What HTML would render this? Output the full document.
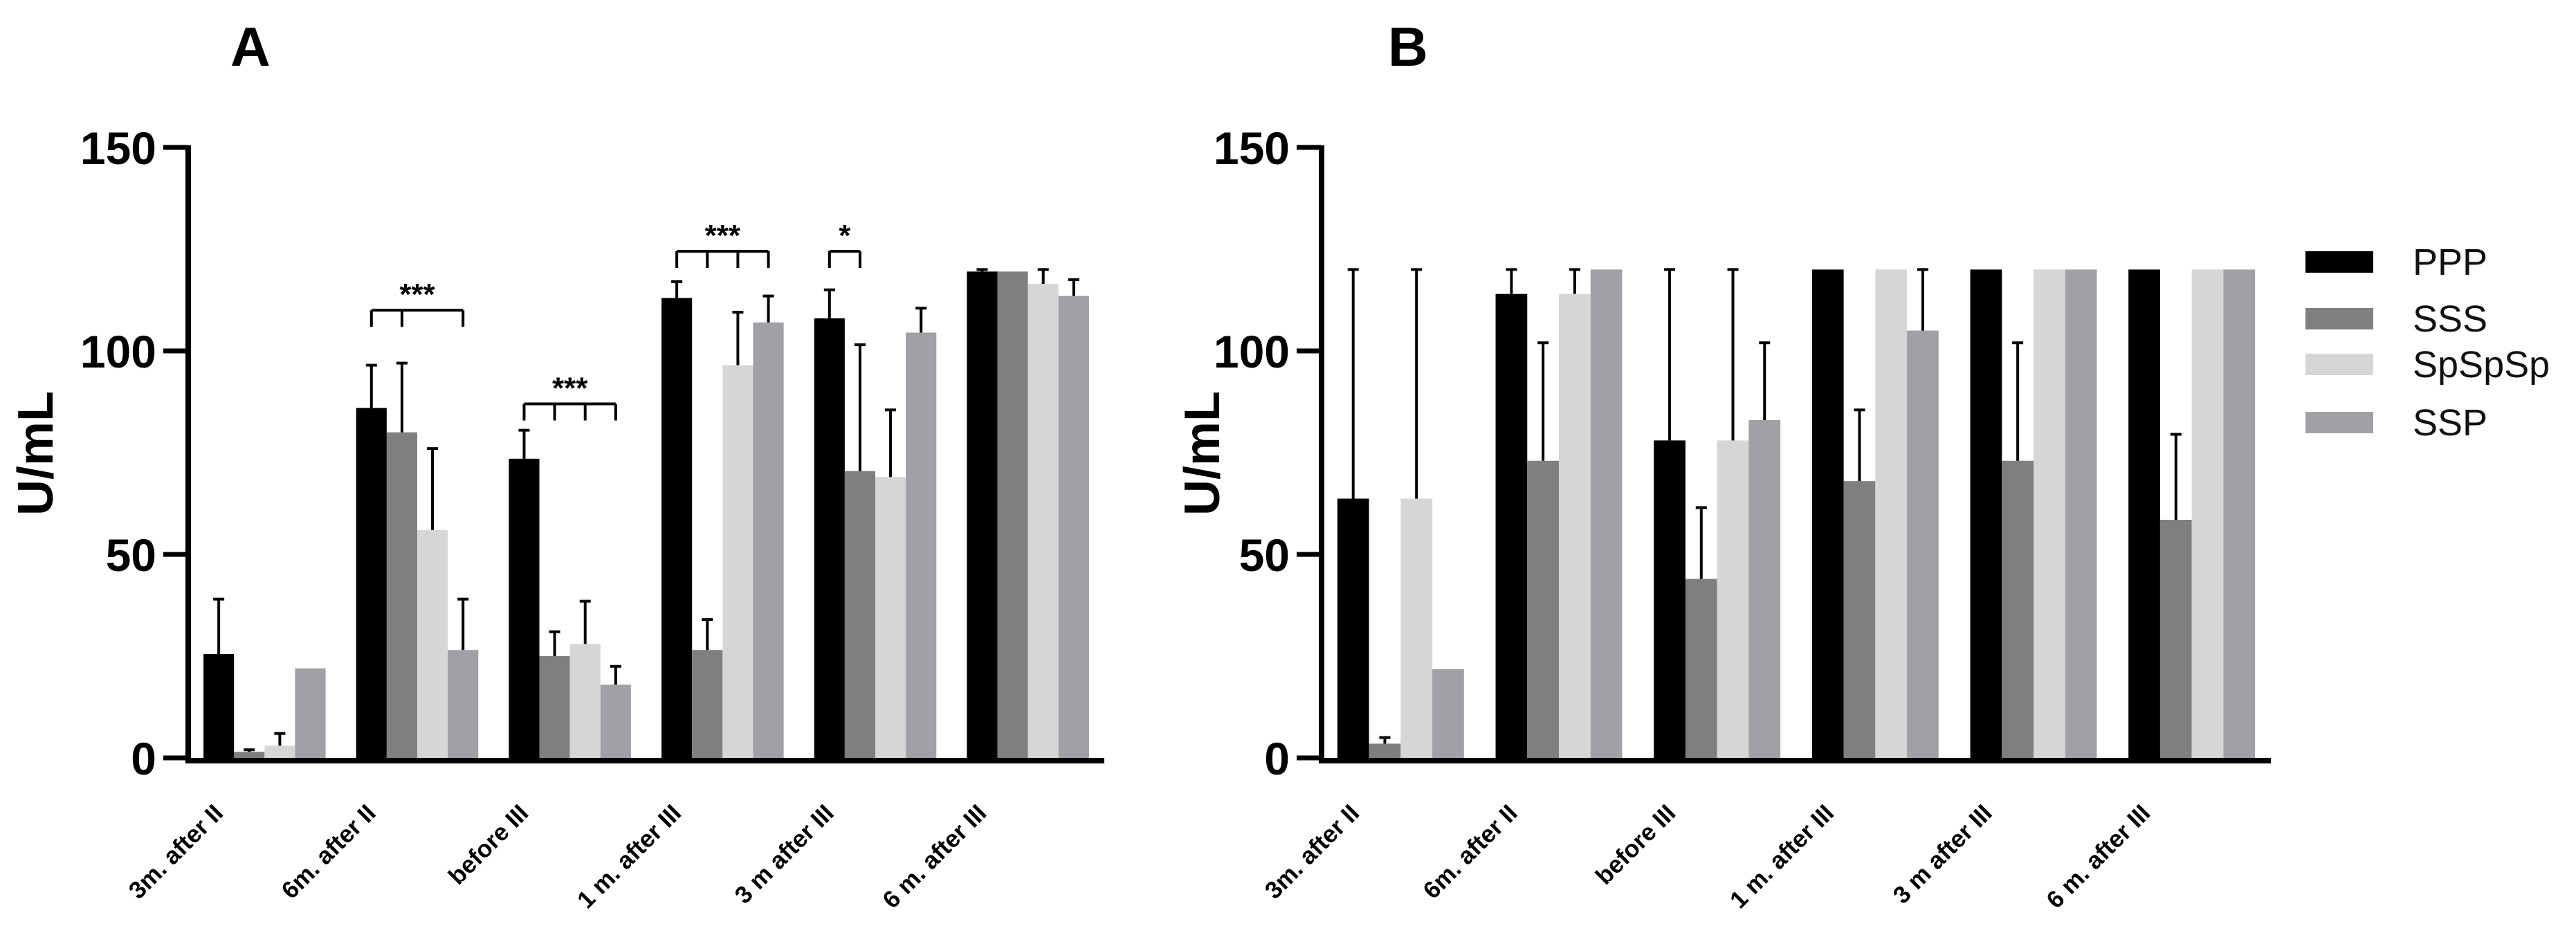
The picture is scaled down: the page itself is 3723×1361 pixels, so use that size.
<!DOCTYPE html>
<html><head><meta charset="utf-8"><style>
html,body{margin:0;padding:0;background:#fff;}
svg{display:block;font-family:"Liberation Sans",Arial,sans-serif;}
</style></head><body>
<svg id="chart" width="3723" height="1361" viewBox="0 0 3723 1361">
<text x="333" y="95" font-size="80" font-weight="bold">A</text>
<text x="2006" y="95" font-size="80" font-weight="bold">B</text>
<g id="legend"></g>
</svg>
<script>
const categories = ["3m. after II","6m. after II","before III","1 m. after III","3 m after III","6 m. after III"];
const seriesNames = ["PPP","SSS","SpSpSp","SSP"];
const seriesColors = ["#000000","#7f7f7f","#d6d6d6","#a0a0a5"];
const yTicks = [0,50,100,150];
// Panel A means and upper error ends
const aPPP = [25.5,86,73.5,113,108,119.5];
const aSSS = [1.5,80,25,26.5,70.5,119.5];
const aSp  = [3,56,28,96.5,69,116.5];
const aSSP = [22,26.5,18,107,104.5,113.5];
const aPPPerr = [39,96.5,80.5,117,115,120];
const aSSSerr = [2,97,31,34,101.5,null];
const aSperr  = [6,76,38.5,109.5,85.5,120];
const aSSPerr = [null,39,22.5,113.5,110.5,117.5];
// Panel B
const bPPP = [63.7,114,78,120,120,120];
const bSSS = [3.5,73,44,68,73,58.5];
const bSp  = [63.7,114,78,120,120,120];
const bSSP = [21.8,120,83,105,120,120];
const bPPPerr = [120,120,120,null,null,null];
const bSSSerr = [5,102,61.5,85.5,102,79.5];
const bSperr  = [120,120,120,null,null,null];
const bSSPerr = [null,null,102,120,null,null];
// Significance annotations for panel A
const sigCats = [1,2,3,4];
const sigTicks = [[0,1,3],[0,1,2,3],[0,1,2,3],[0,1]];
const sigLevels = [110,87,124.5,124.5];
const sigLabels = ["***","***","***","*"];

const NS="http://www.w3.org/2000/svg";
const svg=document.getElementById('chart');
function mk(tag,attrs,parent){const e=document.createElementNS(NS,tag);for(const k in attrs)e.setAttribute(k,attrs[k]);(parent||svg).appendChild(e);return e;}
const Y0=1095, YTOP=213;
function yScale(v){return Y0-(v/150)*(Y0-YTOP);}

function panel(id,x0,x1,vals,errs,ylabX){
  const g=mk('g',{});
  
  
  const gw=(x1-x0)/categories.length, bw=gw/5;
  const xs=(c,s)=>x0+c*gw+bw*(0.5+s);
  for(let s=0;s<4;s++){
    for(let c=0;c<categories.length;c++){
      const v=vals[s][c];
      const r=mk('rect',{x:xs(c,s),y:yScale(v),width:bw,height:Y0-yScale(v),fill:seriesColors[s]},g);
      
      
      const e=errs[s][c];
      if(e!==null && e>v){
        const cx=xs(c,s)+bw/2;
        const eb=mk('path',{d:`M${cx},${yScale(v)} V${yScale(e)} M${cx-8},${yScale(e)} H${cx+8}`,stroke:'#000','stroke-width':4,fill:'none'},g);
        
        
      }
    }
  }
  const ax=mk('path',{d:`M${x0},${YTOP-3} V${Y0+4} H${x1}`,stroke:'#000','stroke-width':8,fill:'none'},g);
  
  
  yTicks.forEach(t=>{
    const tk=mk('line',{x1:x0-36,x2:x0,y1:yScale(t),y2:yScale(t),stroke:'#000','stroke-width':7},g);
    
    
    const tl=mk('text',{x:x0-46,y:yScale(t)+24,'text-anchor':'end','font-size':66,'font-weight':'bold'},g);
    tl.textContent=t;
    
    
  });
  categories.forEach((cat,c)=>{
    const cx=x0+c*gw+gw/2;
    const tl=mk('text',{x:0,y:0,'text-anchor':'end','font-size':35,'font-weight':'bold',transform:`translate(${cx-58},${Y0+82}) rotate(-45)`},g);
    tl.textContent=cat;
    
    
  });
  const yl=mk('text',{x:0,y:0,'text-anchor':'middle','font-size':72,'font-weight':'bold',transform:`translate(${ylabX},655) rotate(-90)`},g);
  yl.textContent='U/mL';
  
  
  return {xs,bw};
}

const A=panel('a',272,1596,[aPPP,aSSS,aSp,aSSP],[aPPPerr,aSSSerr,aSperr,aSSPerr],76);
panel('b',1910,3282,[bPPP,bSSS,bSp,bSSP],[bPPPerr,bSSSerr,bSperr,bSSPerr],1762);

sigCats.forEach((c,i)=>{
  const ticks=sigTicks[i];
  const yv=yScale(sigLevels[i]);
  const xa=A.xs(c,ticks[0])+A.bw/2, xb=A.xs(c,ticks[ticks.length-1])+A.bw/2;
  let d=`M${xa},${yv} H${xb}`;
  ticks.forEach(s=>{const x=A.xs(c,s)+A.bw/2;d+=` M${x},${yv} V${yv+24}`;});
  const p=mk('path',{d:d,stroke:'#000','stroke-width':4,fill:'none'});
  
  
  const t=mk('text',{x:(xa+xb)/2,y:yv-8,'text-anchor':'middle','font-size':44,'font-weight':'bold'});
  t.textContent=sigLabels[i];
  
  
});

const lg=document.getElementById('legend');
const legendY=[378,460,526,610];
seriesNames.forEach((n,i)=>{
  const r=mk('rect',{x:3332,y:legendY[i]-15,width:98,height:31,fill:seriesColors[i]},lg);
  
  
  const t=mk('text',{x:3487,y:legendY[i]+19,'font-size':54,fill:'#111'},lg);
  t.textContent=n;
  
  
});
</script>
</body></html>
